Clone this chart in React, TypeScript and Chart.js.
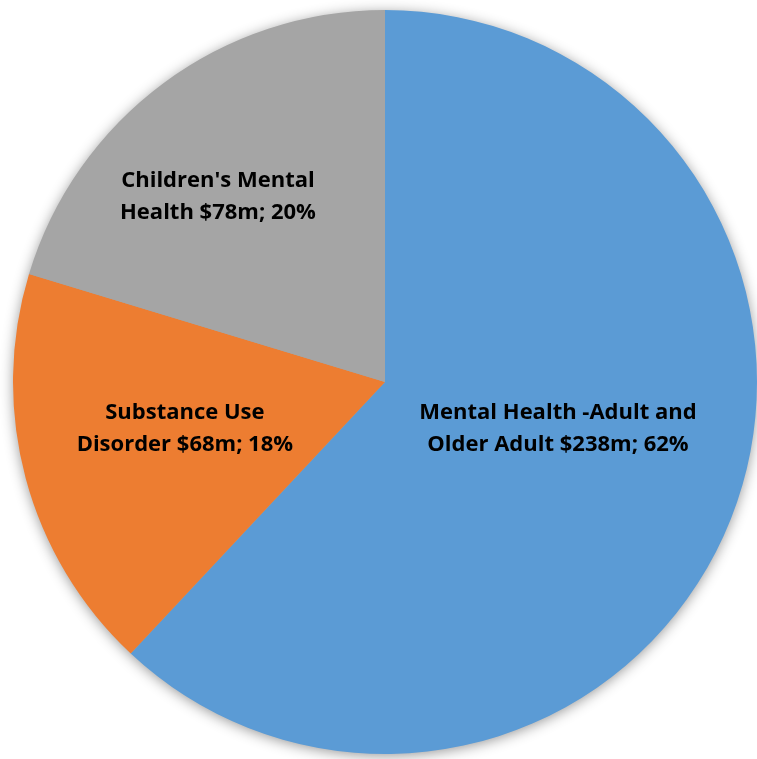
import React, { useEffect, useRef } from "react";
import { Chart, registerables } from "chart.js";

Chart.register(...registerables);

const categories = [
  "Mental Health -Adult and Older Adult",
  "Substance Use Disorder",
  "Children's Mental Health",
];
const values = [238, 68, 78];
const labelLines = [
  ["Mental Health -Adult and", "Older Adult $238m; 62%"],
  ["Substance Use", "Disorder $68m; 18%"],
  ["Children's Mental", "Health $78m; 20%"],
];
const colors = ["#5B9BD5", "#ED7D31", "#A5A5A5"];
// label center offsets in units of the pie radius
const labelOffsets = [
  [0.465, 0.126],
  [-0.538, 0.126],
  [-0.449, -0.497],
];

const shadowPlugin = {
  id: "pieShadow",
  beforeDatasetsDraw(chart: any) {
    const meta = chart.getDatasetMeta(0);
    const arc = meta.data[0];
    if (!arc) return;
    const { x, y, outerRadius } = arc.getProps(["x", "y", "outerRadius"], true);
    const ctx = chart.ctx;
    ctx.save();
    ctx.shadowColor = "rgba(0,0,0,0.45)";
    ctx.shadowBlur = 14;
    ctx.shadowOffsetX = 0;
    ctx.shadowOffsetY = 2;
    ctx.beginPath();
    ctx.arc(x, y, outerRadius - 1, 0, Math.PI * 2);
    ctx.fillStyle = "#A5A5A5";
    ctx.fill();
    ctx.restore();
  },
};

const labelPlugin = {
  id: "sliceLabels",
  afterDatasetsDraw(chart: any) {
    const meta = chart.getDatasetMeta(0);
    const ctx = chart.ctx;
    ctx.save();
    ctx.font = "bold 22px 'Open Sans', 'Noto Sans', sans-serif";
    ctx.fillStyle = "#000000";
    ctx.textAlign = "center";
    ctx.textBaseline = "middle";
    meta.data.forEach((arc: any, i: number) => {
      const { x, y, outerRadius } = arc.getProps(["x", "y", "outerRadius"], true);
      const cx = x + labelOffsets[i][0] * outerRadius;
      const cy = y + labelOffsets[i][1] * outerRadius;
      const lines = labelLines[i];
      const lh = 32;
      lines.forEach((t, j) => {
        ctx.fillText(t, cx, cy + (j - (lines.length - 1) / 2) * lh);
      });
    });
    ctx.restore();
  },
};

export default function App() {
  const ref = useRef<HTMLCanvasElement>(null);
  useEffect(() => {
    if (!ref.current) return;
    const chart = new Chart(ref.current, {
      type: "pie",
      data: {
        labels: categories,
        datasets: [
          {
            data: values,
            backgroundColor: colors,
            borderWidth: 0,
          },
        ],
      },
      options: {
        animation: false,
        responsive: false,
        maintainAspectRatio: false,
        layout: { padding: { left: 13, right: 0, top: 10, bottom: 5 } },
        plugins: {
          legend: { display: false },
          tooltip: { enabled: false },
        },
      },
      plugins: [shadowPlugin, labelPlugin],
    });
    return () => chart.destroy();
  }, []);
  return (
    <div style={{ position: "fixed", left: 0, top: 0, width: 757, height: 759, background: "#fff" }}>
      <canvas ref={ref} width={757} height={759} style={{ width: 757, height: 759 }} />
    </div>
  );
}
